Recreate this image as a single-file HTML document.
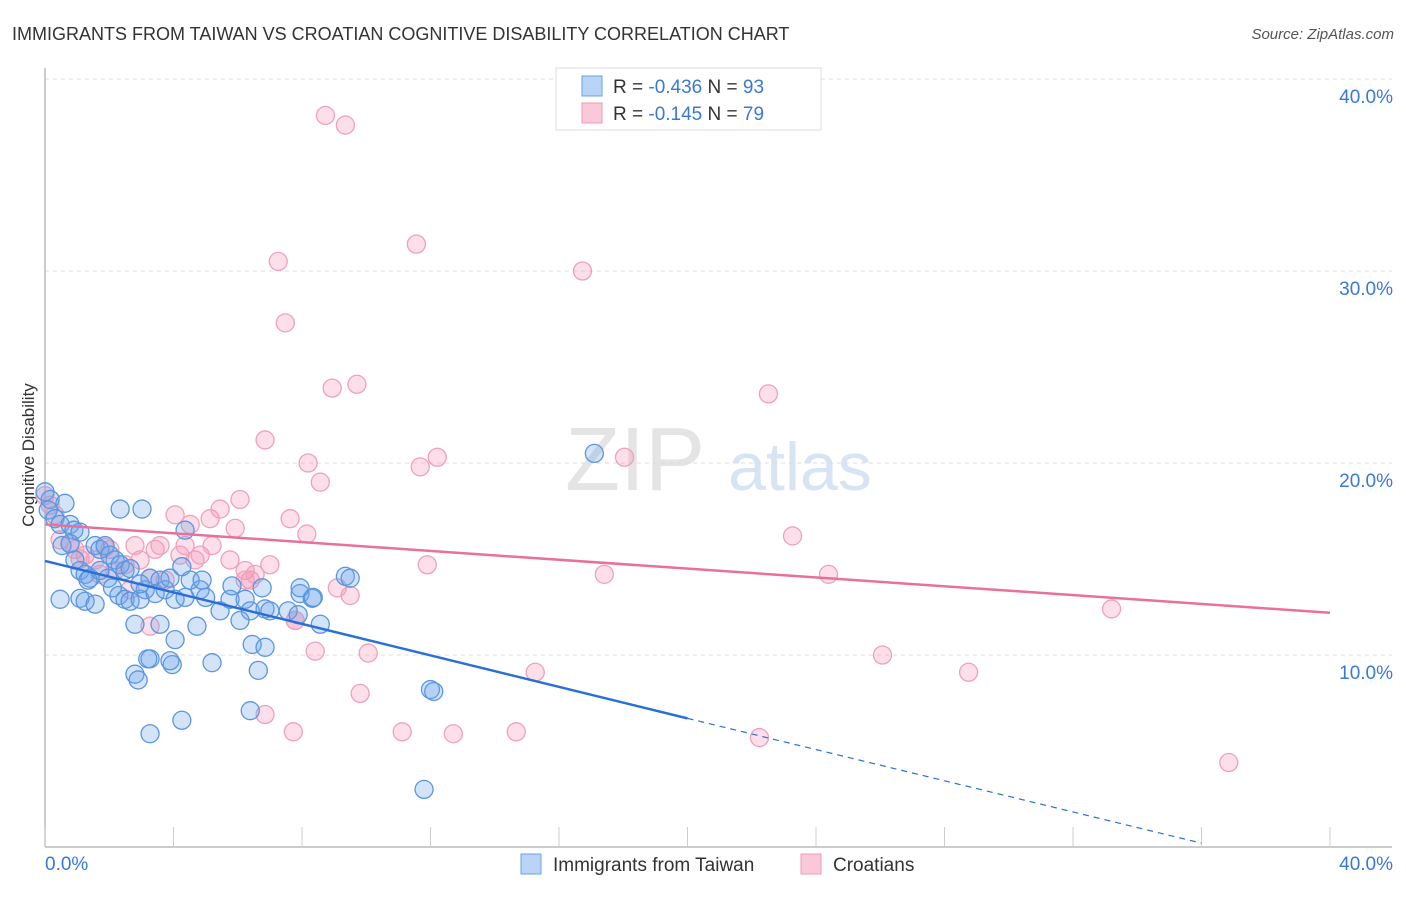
<!DOCTYPE html>
<html><head><meta charset="utf-8"><style>
body{margin:0;background:#fff;font-family:"Liberation Sans",sans-serif;}
svg text{font-family:"Liberation Sans",sans-serif;}
</style></head><body>
<svg id="chart" width="1406" height="892">
<text x="12" y="40" font-size="18" fill="#333">IMMIGRANTS FROM TAIWAN VS CROATIAN COGNITIVE DISABILITY CORRELATION CHART</text>
<text x="1394" y="39" font-size="15" fill="#555" font-style="italic" text-anchor="end">Source: ZipAtlas.com</text>
<text x="34" y="455" font-size="17" fill="#333" text-anchor="middle" transform="rotate(-90 34 455)">Cognitive Disability</text>
<text x="635" y="490" font-size="90" fill="#e4e4e4" text-anchor="middle" font-family="Liberation Serif">ZIP</text>
<text x="800" y="490" font-size="68" fill="#d6e4f4" text-anchor="middle">atlas</text>
<g id="grid"></g><g id="pts"></g><g id="lines"></g>
<g>
<rect x="556" y="68" width="265" height="62" fill="#fff" stroke="#ddd"/>
<rect x="582" y="76" width="20" height="20" fill="#b9d4f6" stroke="#6aa0e4"/>
<rect x="582" y="103" width="20" height="20" fill="#fac9d8" stroke="#ef9ab8"/>
<text x="613" y="93" font-size="19" fill="#333">R = <tspan fill="#3a78d6">-0.436</tspan>   N = <tspan fill="#3a78d6">93</tspan></text>
<text x="613" y="120" font-size="19" fill="#333">R =  <tspan fill="#3a78d6">-0.145</tspan>   N = <tspan fill="#3a78d6">79</tspan></text>
</g>
<rect x="521" y="854" width="20" height="20" fill="#b9d4f6" stroke="#6aa0e4"/>
<text x="553" y="871" font-size="19" fill="#333">Immigrants from Taiwan</text>
<rect x="801" y="854" width="20" height="20" fill="#fac9d8" stroke="#ef9ab8"/>
<text x="833" y="871" font-size="19" fill="#333">Croatians</text>
</svg>
<script>
const yTicks=[10,20,30,40];
const yTickLabels=["10.0%","20.0%","30.0%","40.0%"];
const xTickVals=[0,4,8,12,16,20,24,28,32,36,40];
const blueX=[0,.16,.1,.31,.47,.62,.78,.9,1.09,.53,.78,.93,1.09,1.25,1.4,1.56,1.71,1.87,2.02,2.18,2.34,2.49,2.65,1.96,2.1,2.3,2.49,2.65,2.96,3.12,3.27,3.43,3.58,3.74,4.05,4.36,4.52,4.83,5.0,5.45,5.76,6.23,6.39,6.76,6.85,7.0,7.57,7.88,7.94,8.32,8.57,9.35,9.5,1.09,1.25,1.56,2.8,3.58,4.73,6.07,4.05,3.27,3.96,5.2,6.45,6.85,6.64,2.8,2.9,3.2,3.89,4.26,3.27,6.39,12.0,12.1,11.8,17.1,2.34,3.02,4.36,.47,1.34,1.71,2.96,3.89,4.26,4.89,5.82,7.94,8.35];
const blueY=[18.5,18.1,17.55,17.1,16.8,17.9,16.8,16.5,16.4,15.7,15.8,14.95,14.4,14.2,14.0,15.7,15.5,15.7,15.2,14.95,14.7,14.4,14.5,14.0,13.5,13.1,12.9,12.8,12.9,13.4,14.0,13.2,13.9,13.4,12.9,13.0,13.9,13.4,13.0,12.3,12.9,12.9,12.3,13.5,12.4,12.3,12.3,12.1,13.2,12.95,11.6,14.1,14.0,12.95,12.8,12.65,11.6,11.6,11.5,11.8,10.8,9.8,9.5,9.6,10.55,10.4,9.2,9.0,8.7,9.8,9.7,6.6,5.9,7.1,8.2,8.1,3.0,20.5,17.6,17.6,16.5,12.9,13.9,14.4,13.7,14.0,14.6,13.9,13.6,13.5,13.0];
const pinkX=[0,.16,.31,.47,.78,.93,1.25,1.56,1.71,2.02,2.18,2.49,2.8,2.96,3.27,3.43,3.58,3.74,4.05,4.2,4.36,4.52,4.67,4.83,5.14,5.2,5.45,5.76,5.92,6.07,6.23,6.39,6.54,7.0,6.85,7.26,7.48,7.63,7.79,8.15,8.19,8.41,8.57,8.73,8.94,9.1,9.35,9.5,9.71,9.81,10.06,11.12,11.56,11.68,11.9,12.21,12.71,14.67,15.26,16.73,17.41,18.04,22.24,22.52,23.27,24.39,26.07,28.75,33.2,36.85,3.27,6.85,7.73,2.65,1.87,1.09,6.23,7.79];
const pinkY=[18.3,17.8,17.3,16.0,15.8,15.5,15.2,14.95,14.2,15.5,14.4,14.7,15.7,14.95,14.0,15.5,15.7,13.9,17.3,15.2,15.7,16.8,14.95,15.2,17.1,15.7,17.6,14.95,16.6,18.1,14.4,13.9,14.2,14.7,21.2,30.5,27.3,17.1,11.8,16.3,20.0,10.2,19.0,38.1,23.9,13.5,37.6,13.1,24.1,8.0,10.1,6.0,31.4,19.8,14.7,20.3,5.9,6.0,9.1,30.0,14.2,20.3,5.7,23.6,16.2,14.2,10.0,9.1,12.4,4.4,11.5,6.9,6.0,13.4,15.6,15.0,13.9,11.8];
const blueTrend=[[0,14.9],[20,6.7]], blueDash=[[20,6.7],[36,0.2]];
const pinkTrend=[[0,16.8],[40,12.2]];
const X0=45,X1=1330,YB=847,PY=19.2;
const xs=v=>X0+v*(X1-X0)/40, ys=v=>YB-v*PY;
const NS="http://www.w3.org/2000/svg";
function mk(tag,attrs,parent){const e=document.createElementNS(NS,tag);for(const k in attrs)e.setAttribute(k,attrs[k]);parent.appendChild(e);return e;}
const grid=document.getElementById('grid');
yTicks.forEach((t,i)=>{
 const l=mk('line',{x1:X0,x2:1392,y1:ys(t),y2:ys(t),stroke:'#ddd','stroke-dasharray':'4,4'},grid);
 
 
 const tx=mk('text',{x:1393,y:ys(t)+24,'font-size':19,fill:'#3a78d6','text-anchor':'end'},grid);
 tx.textContent=yTickLabels[i];
 
 
});
const ax=mk('line',{x1:X0,x2:X0,y1:68,y2:YB,stroke:'#bbb','stroke-width':1.5},grid);


const bx=mk('line',{x1:X0,x2:1392,y1:YB,y2:YB,stroke:'#bbb','stroke-width':1.5},grid);


xTickVals.forEach(t=>{
 const l=mk('line',{x1:xs(t),x2:xs(t),y1:YB,y2:YB-20,stroke:'#ccc'},grid);
 
 
});
const xl0=mk('text',{x:45,y:870,'font-size':19,fill:'#3a78d6'},grid);xl0.textContent='0.0%';


const xl1=mk('text',{x:1393,y:870,'font-size':19,fill:'#3a78d6','text-anchor':'end'},grid);xl1.textContent='40.0%';


const pts=document.getElementById('pts');
pinkX.forEach((v,i)=>{
 const c=mk('circle',{cx:xs(v),cy:ys(pinkY[i]),r:9,fill:'rgba(244,150,180,0.3)',stroke:'#f0a0bc','stroke-width':1.3},pts);
 
 
});
blueX.forEach((v,i)=>{
 const c=mk('circle',{cx:xs(v),cy:ys(blueY[i]),r:9,fill:'rgba(110,165,235,0.3)',stroke:'#5a96e0','stroke-width':1.3},pts);
 
 
});
const lines=document.getElementById('lines');
const bl=mk('line',{x1:xs(blueTrend[0][0]),y1:ys(blueTrend[0][1]),x2:xs(blueTrend[1][0]),y2:ys(blueTrend[1][1]),stroke:'#2a6fd8','stroke-width':2.5},lines);


const bd=mk('line',{x1:xs(blueDash[0][0]),y1:ys(blueDash[0][1]),x2:xs(blueDash[1][0]),y2:ys(blueDash[1][1]),stroke:'#2a6fd8','stroke-width':1.2,'stroke-dasharray':'6,5'},lines);


const pl=mk('line',{x1:xs(pinkTrend[0][0]),y1:ys(pinkTrend[0][1]),x2:xs(pinkTrend[1][0]),y2:ys(pinkTrend[1][1]),stroke:'#e8709a','stroke-width':2.5},lines);


</script>
</body></html>
